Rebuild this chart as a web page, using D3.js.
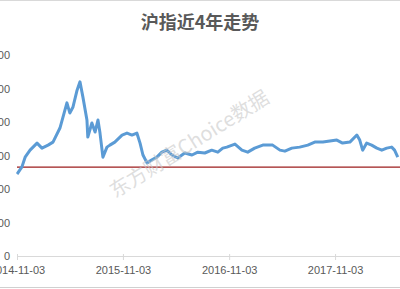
<!DOCTYPE html>
<html>
<head>
<meta charset="utf-8">
<script src="https://cdn.jsdelivr.net/npm/d3@7"></script>
<style>
  html, body { margin: 0; padding: 0; background: #fff; overflow: hidden; }
  svg { display: block; }
</style>
</head>
<body>
<svg id="chart" width="400" height="289"></svg>
<script>
// 沪指 daily close
const dates = [
  "2014-11-03", "2014-11-06", "2014-11-20", "2014-12-01", "2014-12-18",
  "2015-01-11", "2015-01-28", "2015-02-18", "2015-03-07", "2015-03-31",
  "2015-04-24", "2015-05-04", "2015-05-15", "2015-05-29", "2015-06-08",
  "2015-06-18", "2015-07-02", "2015-07-05", "2015-07-19", "2015-07-30",
  "2015-08-09", "2015-08-16", "2015-08-26", "2015-09-09", "2015-09-19",
  "2015-10-06", "2015-10-31", "2015-11-17", "2015-12-04", "2015-12-21",
  "2016-01-01", "2016-01-11", "2016-01-25", "2016-02-11", "2016-02-28",
  "2016-03-16", "2016-04-02", "2016-04-20", "2016-05-10", "2016-06-03",
  "2016-06-28", "2016-07-18", "2016-08-11", "2016-09-04", "2016-09-25",
  "2016-10-12", "2016-10-26", "2016-11-23", "2016-12-17", "2017-01-06",
  "2017-01-30", "2017-02-27", "2017-04-02", "2017-04-27", "2017-05-14",
  "2017-06-07", "2017-07-04", "2017-08-01", "2017-08-25", "2017-09-22",
  "2017-10-16", "2017-11-09", "2017-11-29", "2017-12-24", "2018-01-17",
  "2018-01-27", "2018-02-06", "2018-02-20", "2018-03-09", "2018-03-27",
  "2018-04-13", "2018-04-30", "2018-05-17", "2018-05-27", "2018-06-07"
];
const closes = [
  2450, 2480, 2660, 2950, 3160,
  3370, 3220, 3310, 3400, 3820,
  4570, 4270, 4450, 4950, 5200,
  4750, 4060, 3550, 3970, 3700,
  4060, 3670, 2950, 3250, 3310,
  3400, 3610, 3670, 3610, 3670,
  3370, 3015, 2780, 2870, 2950,
  3100, 3160, 3015, 2925, 3075,
  3015, 3100, 3075, 3160, 3100,
  3220, 3250, 3340, 3160, 3100,
  3220, 3310, 3310, 3160, 3130,
  3220, 3250, 3310, 3400, 3400,
  3430, 3460, 3370, 3400, 3610,
  3460, 3160, 3370, 3310, 3220,
  3160, 3220, 3250, 3160, 2950
];
const refLevel = 2655;
const yTicks = [0, 1000, 2000, 3000, 4000, 5000, 6000];
const xTicks = ["2014-11-03", "2015-11-03", "2016-11-03", "2017-11-03"];
const title = "沪指近4年走势";
const watermark = "东方财富Choice数据";

const parseDate = d3.timeParse("%Y-%m-%d");
const data = dates.map((d, i) => ({ date: parseDate(d), value: closes[i] }));

const svg = d3.select("#chart");

// frame lines at the top and bottom of the cropped picture
svg.append("line")
  .attr("x1", 0).attr("x2", 400).attr("y1", 0.5).attr("y2", 0.5)
  .attr("stroke", "#d9d9d9");
svg.append("line")
  .attr("x1", 0).attr("x2", 400).attr("y1", 287.5).attr("y2", 287.5)
  .attr("stroke", "#d0d0d0");

// the plot runs on past the right edge of the crop
const x = d3.scaleTime()
  .domain([parseDate("2014-11-03"), parseDate("2018-11-03")])
  .range([17, 441]);
const y = d3.scaleLinear()
  .domain([0, 6000])
  .range([256, 55]);

// y labels, partly cut off at the left edge
const yAxis = d3.axisLeft(y).tickValues(yTicks).tickSize(0).tickPadding(0);
svg.append("g")
  .attr("transform", "translate(10,0)")
  .call(yAxis)
  .call(g => g.select(".domain").remove())
  .call(g => g.selectAll("text")
    .attr("fill", "#595959")
    .style("font-family", "'Liberation Sans', Arial, sans-serif")
    .style("font-size", "11px"));

// x axis
const xAxis = d3.axisBottom(x)
  .tickValues(xTicks.map(parseDate))
  .tickFormat(d3.timeFormat("%Y-%m-%d"))
  .tickSizeInner(4)
  .tickSizeOuter(0)
  .tickPadding(6);
svg.append("g")
  .attr("transform", "translate(0,256)")
  .call(xAxis)
  .call(g => g.select(".domain").attr("stroke", "#d9d9d9"))
  .call(g => g.selectAll(".tick line").attr("stroke", "#d9d9d9").attr("y1", -2))
  .call(g => g.selectAll("text")
    .attr("fill", "#595959")
    .style("font-family", "'Liberation Sans', Arial, sans-serif")
    .style("font-size", "11px"));

// reference level
svg.append("line")
  .attr("x1", x.range()[0]).attr("x2", x.range()[1])
  .attr("y1", y(refLevel)).attr("y2", y(refLevel))
  .attr("stroke", "#9c1c1c")
  .attr("stroke-width", 1.2);

// index line
const line = d3.line()
  .x(d => x(d.date))
  .y(d => y(d.value));
svg.append("path")
  .datum(data)
  .attr("d", line)
  .attr("fill", "none")
  .attr("stroke", "#5b9bd5")
  .attr("stroke-width", 3)
  .attr("stroke-linejoin", "round");

// title
svg.append("text")
  .attr("x", 200).attr("y", 29)
  .attr("text-anchor", "middle")
  .attr("fill", "#595959")
  .style("font-family", "'Noto Sans CJK SC', sans-serif")
  .style("font-weight", "bold")
  .style("font-size", "18px")
  .text(title);

// watermark
svg.append("text")
  .attr("transform", "translate(193,150) rotate(-32)")
  .attr("text-anchor", "middle")
  .attr("fill", "#c8c8c8")
  .attr("fill-opacity", 0.6)
  .style("font-family", "'Noto Sans CJK SC', sans-serif")
  .style("font-size", "20px")
  .text(watermark);
</script>
</body>
</html>
